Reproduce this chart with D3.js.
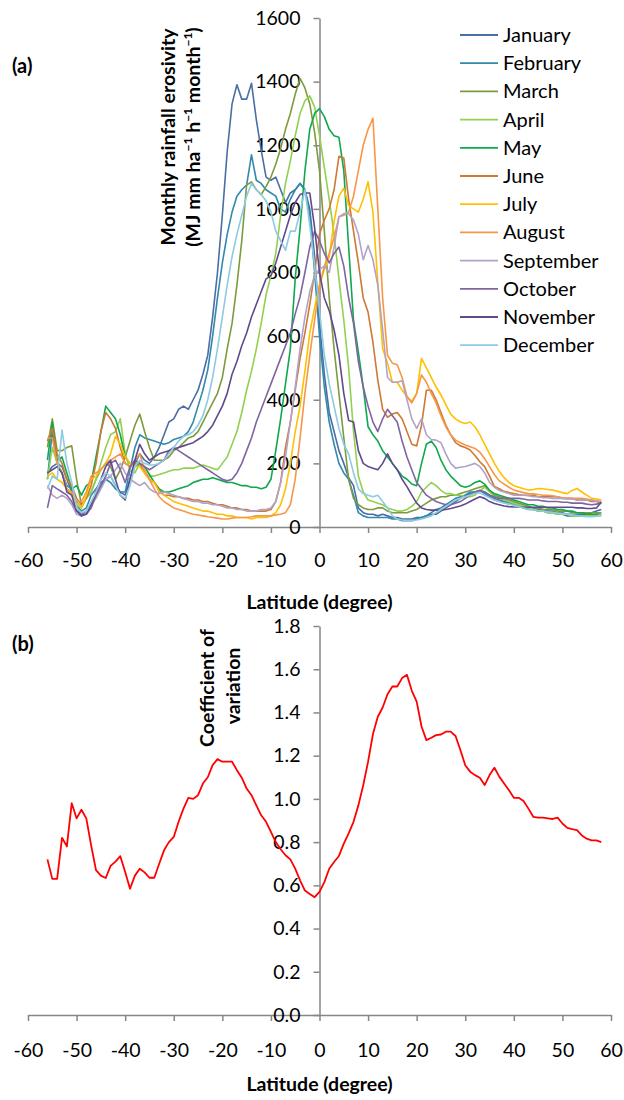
<!DOCTYPE html>
<html>
<head>
<meta charset="utf-8">
<title>Rainfall erosivity by latitude</title>
<script src="https://d3js.org/d3.v7.min.js"></script>
<style>
  body { margin: 0; background: #fff; }
  svg text { font-family: Lato, "Open Sans", sans-serif; fill: #000; }
  .axis path, .axis line { stroke: #868686; stroke-width: 1.5px; }
  .axis text { font-size: 19.5px; font-family: Lato, "Open Sans", sans-serif; }
  .ttl { font-weight: bold; font-size: 19.5px; }
  .leg { font-size: 20px; }
</style>
</head>
<body>
<svg id="chart" width="624" height="1100"></svg>
<script>
// latitude grid (degree)
var lats = [-56,-55,-54,-53,-52,-51,-50,-49,-48,-47,-46,-45,-44,-43,-42,-41,-40,-39,-38,-37,
  -36,-35,-34,-33,-32,-31,-30,-29,-28,-27,-26,-25,-24,-23,-22,-21,-20,-19,-18,-17,
  -16,-15,-14,-13,-12,-11,-10,-9,-8,-7,-6,-5,-4,-3,-2,-1,0,1,2,3,
  4,5,6,7,8,9,10,11,12,13,14,15,16,17,18,19,20,21,22,23,
  24,25,26,27,28,29,30,31,32,33,34,35,36,37,38,39,40,41,42,43,
  44,45,46,47,48,49,50,51,52,53,54,55,56,57,58];

var months = ["January","February","March","April","May","June","July","August","September","October","November","December"];
var colors = ["#4A6FA5","#3189AE","#7E9A3E","#92D050","#10A84F","#CC7A34","#FFC000","#F79646","#B3A2C7","#8064A2","#5F4B8B","#8CCBE0"];

var jan = [170,190,200,190,150,110,60,40,50,70,
  100,130,150,160,130,110,100,150,200,230,
  210,200,220,250,290,330,340,370,380,370,
  400,430,480,540,660,800,980,1180,1330,1390,
  1345,1345,1395,1280,1185,1100,1090,1100,1060,1020,
  1050,1060,1080,1060,1000,850,640,480,360,300,
  240,200,155,130,60,45,40,40,35,40,
  35,30,30,25,25,25,30,30,35,40,
  40,50,60,70,80,90,100,105,110,115,
  110,100,90,85,80,80,75,70,65,60,
  60,55,55,50,50,45,45,40,40,40,
  40,40,45,50,55];
var feb = [150,300,200,170,130,120,70,50,60,100,
  120,140,150,140,120,110,110,180,250,290,
  280,275,270,265,260,265,275,280,285,300,
  330,380,430,494,600,720,830,920,990,1040,
  1060,1075,1170,1090,1080,1060,1050,1040,1000,990,
  1030,1060,1080,1060,980,800,600,440,330,260,
  200,170,150,100,45,35,30,30,30,30,
  30,25,25,20,20,20,25,30,35,45,
  55,60,70,80,90,95,100,110,110,115,
  105,95,85,80,80,75,70,65,60,55,
  55,50,50,45,45,40,40,35,35,35,
  35,35,35,40,40];
var mar = [250,340,240,240,250,255,150,70,90,110,
  150,180,200,190,150,180,220,270,320,355,
  300,250,210,210,210,220,240,250,265,280,
  285,300,330,360,390,420,470,560,640,760,
  900,1075,1085,1060,1045,1070,1100,1140,1190,1250,
  1300,1360,1410,1380,1330,1240,1120,930,720,560,
  420,280,150,90,70,60,55,55,60,60,
  50,45,45,45,45,50,55,65,75,85,
  90,95,95,100,100,105,110,115,120,125,
  130,115,100,95,90,85,80,75,70,65,
  60,60,55,55,55,50,50,50,45,45,
  45,45,45,45,45];
var apr = [150,250,200,170,120,100,80,60,90,110,
  150,200,250,290,300,340,230,180,170,200,
  170,160,160,165,170,175,180,180,185,185,
  185,190,195,190,185,180,200,220,260,300,
  360,430,490,560,640,730,790,860,980,1080,
  1150,1230,1300,1340,1355,1320,1230,1130,1030,920,
  780,650,500,300,160,110,85,80,75,70,
  60,55,50,50,55,65,80,110,125,140,
  130,115,105,105,100,100,95,95,100,115,
  125,110,95,90,85,80,75,70,65,60,
  55,50,50,45,45,40,40,40,35,35,
  35,35,35,35,35];
var may = [210,330,210,220,170,120,130,100,130,140,
  220,300,380,360,340,290,220,200,190,200,
  190,165,140,120,110,110,115,120,125,130,
  140,145,150,150,155,150,145,140,140,135,
  130,130,125,125,120,125,150,240,340,450,
  560,780,940,1120,1250,1300,1315,1290,1250,1230,
  1225,1120,880,650,550,440,315,290,270,240,
  220,200,180,160,150,135,130,200,260,270,
  250,210,180,160,145,130,125,130,140,145,
  135,115,105,100,95,90,85,80,75,70,
  70,65,65,60,60,55,55,50,50,45,
  45,40,40,40,40];
var jun = [270,310,230,200,150,130,90,70,90,130,
  200,300,360,340,310,250,200,190,200,200,
  170,150,140,115,100,100,95,95,90,90,
  85,85,80,80,75,70,70,65,60,60,
  55,55,50,50,50,50,55,80,140,250,
  330,430,530,610,700,800,920,965,1000,1060,
  1165,1160,1030,930,830,720,675,580,462,370,
  345,355,360,340,300,260,255,320,430,430,
  400,360,320,290,265,255,250,242,225,205,
  190,160,127,120,112,108,105,102,100,100,
  100,95,95,95,95,95,90,90,90,85,
  85,85,80,80,75];
var jul = [160,170,150,140,120,100,70,60,100,150,
  160,180,200,230,285,260,220,200,190,190,
  170,150,140,110,100,90,80,75,70,65,
  60,55,50,50,45,40,40,35,35,30,
  30,30,25,30,30,30,35,45,70,120,
  200,300,380,490,610,690,760,810,850,960,
  1040,1065,1010,1000,990,1030,1085,990,770,560,
  515,455,455,430,410,395,420,530,500,470,
  440,415,385,355,340,330,325,330,315,290,
  260,230,200,175,155,140,130,125,120,116,
  118,121,120,118,116,112,108,105,115,121,
  110,100,90,88,85];
var aug = [280,280,200,170,120,110,80,80,110,160,
  170,180,200,210,220,230,200,190,210,230,
  180,150,120,95,80,70,60,55,50,45,
  40,38,35,32,30,28,25,25,28,30,
  30,30,32,35,35,35,35,38,40,45,
  70,150,280,420,540,650,760,820,860,910,
  975,980,990,1040,1120,1200,1250,1285,1000,720,
  540,515,510,470,410,390,420,478,455,420,
  390,350,315,290,273,265,258,252,247,235,
  215,190,165,145,135,125,116,112,108,105,
  104,102,100,100,98,95,92,90,90,90,
  90,88,85,82,80];
var sep = [130,100,90,100,90,70,40,35,45,70,
  90,120,150,160,180,200,170,150,140,130,
  140,120,110,105,110,105,100,95,90,85,
  80,80,75,75,70,70,65,60,60,55,
  55,50,50,50,55,55,60,80,140,220,
  330,440,560,660,740,790,810,820,800,880,
  975,985,985,965,920,840,885,840,760,620,
  470,455,455,460,400,340,310,340,290,275,
  273,265,230,200,185,188,190,195,200,190,
  170,140,125,115,110,105,100,100,100,98,
  95,95,92,92,90,90,90,88,88,85,
  85,85,85,80,80];
var oct = [60,130,120,110,100,80,50,40,40,60,
  100,130,160,200,210,180,140,190,210,200,
  190,180,190,200,210,240,250,240,230,220,
  210,200,190,180,170,160,150,145,150,170,
  200,240,280,330,370,410,450,490,530,570,
  610,670,724,800,880,930,900,860,830,860,
  880,820,720,640,520,440,380,330,300,340,
  370,350,330,270,220,180,140,120,100,90,
  80,75,70,70,75,80,90,100,110,115,
  110,100,95,90,90,90,90,90,88,85,
  85,85,82,80,80,80,78,78,75,75,
  75,72,70,72,75];
var nov = [170,180,190,170,110,100,50,35,40,70,
  110,150,190,210,150,100,85,150,210,260,
  230,210,220,230,235,240,245,250,255,260,
  265,275,285,300,320,350,380,420,480,520,
  570,610,660,700,740,780,790,830,880,930,
  980,1020,1045,1050,1050,940,800,720,680,620,
  540,420,335,330,240,200,190,185,180,200,
  230,200,180,150,127,100,75,60,55,53,
  53,53,55,58,62,66,72,80,88,95,
  90,80,74,70,66,64,63,63,62,62,
  62,62,62,62,62,62,62,62,62,60,
  60,58,58,60,78];
var dec = [120,160,150,305,200,140,60,45,50,80,
  110,150,170,160,130,100,90,130,190,210,
  200,195,195,200,210,230,250,270,285,290,
  300,320,350,400,470,560,660,760,850,920,
  980,1040,1080,1060,1045,1025,990,930,900,870,
  930,930,990,1060,950,820,680,540,450,380,
  310,260,230,170,120,105,100,95,100,80,
  60,35,25,22,20,20,22,25,30,35,
  45,55,65,75,85,90,95,100,105,108,
  100,92,85,80,75,72,68,64,60,56,
  54,52,50,48,46,44,42,40,38,36,
  34,32,32,34,40];

// coefficient of variation across the 12 months
var cv = [0.72,0.63,0.63,0.82,0.78,0.98,0.91,0.95,0.91,0.785,
  0.67,0.645,0.634,0.69,0.71,0.735,0.662,0.584,0.645,0.677,
  0.66,0.635,0.635,0.70,0.762,0.80,0.824,0.894,0.955,1.005,
  1.0,1.017,1.071,1.10,1.156,1.184,1.172,1.172,1.172,1.133,
  1.098,1.048,1.017,0.97,0.924,0.894,0.847,0.80,0.767,0.739,
  0.72,0.677,0.623,0.576,0.56,0.545,0.57,0.615,0.677,0.708,
  0.736,0.793,0.84,0.894,0.97,1.063,1.172,1.30,1.38,1.423,
  1.484,1.52,1.52,1.559,1.574,1.50,1.45,1.335,1.272,1.283,
  1.295,1.298,1.311,1.311,1.291,1.226,1.156,1.126,1.11,1.098,
  1.064,1.11,1.144,1.103,1.071,1.04,1.005,1.005,0.99,0.955,
  0.917,0.913,0.913,0.91,0.907,0.913,0.886,0.866,0.86,0.855,
  0.831,0.816,0.808,0.808,0.80];

var xTicks = [-60,-50,-40,-30,-20,-10,0,10,20,30,40,50,60];
var yTicksA = [0,200,400,600,800,1000,1200,1400,1600];
var yTicksB = [0,0.2,0.4,0.6,0.8,1.0,1.2,1.4,1.6,1.8];

var series = [jan,feb,mar,apr,may,jun,jul,aug,sep,oct,nov,dec];

var svg = d3.select("#chart");

var x = d3.scaleLinear().domain([-60, 60]).range([28, 611]);
var yA = d3.scaleLinear().domain([0, 1600]).range([527, 18]);
var yB = d3.scaleLinear().domain([0, 1.8]).range([1015, 626]);

// ---- panel (a) ----
svg.append("g").attr("class", "axis")
  .attr("transform", "translate(0," + yA(0) + ")")
  .call(d3.axisBottom(x).tickValues(xTicks).tickSize(6).tickSizeOuter(0).tickPadding(20)
    .tickFormat(function(d) { return String(d); }));

svg.append("g").attr("class", "axis")
  .attr("transform", "translate(" + x(0) + ",0)")
  .call(d3.axisLeft(yA).tickValues(yTicksA).tickSize(6).tickSizeOuter(0).tickPadding(13)
    .tickFormat(function(d) { return String(d); }));

svg.append("text").attr("class", "ttl").attr("x", 12).attr("y", 73).style("font-size", "20px").text("(a)");

svg.append("text").attr("class", "ttl").attr("text-anchor", "middle")
  .attr("x", x(0)).attr("y", 609).text("Latitude (degree)");

svg.append("text").attr("class", "ttl").attr("text-anchor", "middle")
  .attr("transform", "translate(175,137) rotate(-90)")
  .text("Monthly rainfall erosivity");

var yt = svg.append("text").attr("class", "ttl").attr("text-anchor", "middle")
  .attr("transform", "translate(200,137) rotate(-90)");
var parts = ["(MJ mm ha", "−1", " h", "−1", " month", "−1", ")"];
parts.forEach(function(p, i) {
  var t = yt.append("tspan").text(p);
  if (i % 2 === 1) t.attr("font-size", "12px").attr("dy", -8);
  else if (i > 0) t.attr("dy", 8);
});

var line = function(yS) {
  return d3.line().x(function(d, i) { return x(lats[i]); }).y(function(d) { return yS(d); });
};

svg.append("g").selectAll("path").data(series).join("path")
  .attr("d", line(yA))
  .attr("fill", "none")
  .attr("stroke", function(d, i) { return colors[i]; })
  .attr("stroke-width", 1.6)
  .attr("stroke-linejoin", "round");

var leg = svg.append("g").selectAll("g").data(months).join("g")
  .attr("transform", function(d, i) { return "translate(0," + (35 + i * 28.2) + ")"; });
leg.append("line").attr("x1", 460).attr("x2", 498)
  .attr("stroke", function(d, i) { return colors[i]; }).attr("stroke-width", 1.8);
leg.append("text").attr("class", "leg").attr("x", 503).attr("dy", "0.35em").text(function(d) { return d; });

// ---- panel (b) ----
svg.append("g").attr("class", "axis")
  .attr("transform", "translate(0," + yB(0) + ")")
  .call(d3.axisBottom(x).tickValues(xTicks).tickSize(6).tickSizeOuter(0).tickPadding(22)
    .tickFormat(function(d) { return String(d); }));

svg.append("g").attr("class", "axis")
  .attr("transform", "translate(" + x(0) + ",0)")
  .call(d3.axisLeft(yB).tickValues(yTicksB).tickSize(6).tickSizeOuter(0).tickPadding(13)
    .tickFormat(d3.format(".1f")));

svg.append("text").attr("class", "ttl").attr("x", 12).attr("y", 651).style("font-size", "20px").text("(b)");

svg.append("text").attr("class", "ttl").attr("text-anchor", "middle")
  .attr("x", x(0)).attr("y", 1091).text("Latitude (degree)");

svg.append("text").attr("class", "ttl").attr("text-anchor", "middle")
  .attr("transform", "translate(214,688) rotate(-90)").text("Coefficient of");
svg.append("text").attr("class", "ttl").attr("text-anchor", "middle")
  .attr("transform", "translate(240,686) rotate(-90)").text("variation");

svg.append("path").datum(cv)
  .attr("d", line(yB))
  .attr("fill", "none")
  .attr("stroke", "#FF0000")
  .attr("stroke-width", 1.8)
  .attr("stroke-linejoin", "round");
</script>
</body>
</html>
